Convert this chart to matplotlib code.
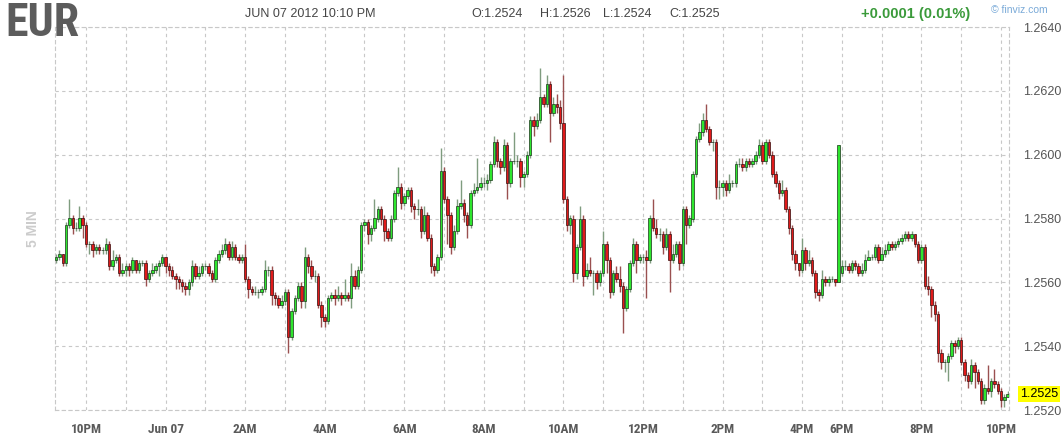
import matplotlib
matplotlib.use("Agg")
import matplotlib.pyplot as plt
from matplotlib import font_manager as fm
from matplotlib.transforms import blended_transform_factory

# ---------------- data (EUR/USD 5-min candles, Jun 06 21:15 -> Jun 07 22:10) ----------------
first_open = 1.2567
open_overrides = {237: 1.2563}   # gap after the 6PM spike candle

closes = [
1.2568,1.2569,1.2566,1.2578,1.2580,1.2577,1.2577,1.2580,1.2578,1.2572,
1.2572,1.2570,1.2571,1.2570,1.2570,1.2572,1.2565,1.2567,1.2568,1.2563,
1.2564,1.2565,1.2564,1.2567,1.2564,1.2566,1.2566,1.2561,1.2563,1.2564,
1.2565,1.2566,1.2568,1.2565,1.2564,1.2562,1.2561,1.2560,1.2559,1.2558,
1.2560,1.2565,1.2562,1.2563,1.2565,1.2565,1.2563,1.2561,1.2567,1.2569,
1.2570,1.2572,1.2568,1.2571,1.2568,1.2567,1.2568,1.2561,1.2558,1.2557,
1.2557,1.2557,1.2558,1.2564,1.2564,1.2556,1.2555,1.2553,1.2554,1.2557,
1.2543,1.2551,1.2555,1.2559,1.2554,1.2568,1.2565,1.2562,1.2562,1.2553,
1.2549,1.2548,1.2555,1.2556,1.2555,1.2556,1.2555,1.2556,1.2555,1.2562,
1.2559,1.2564,1.2578,1.2579,1.2575,1.2577,1.2580,1.2583,1.2580,1.2576,
1.2574,1.2580,1.2588,1.2590,1.2585,1.2587,1.2589,1.2584,1.2583,1.2583,
1.2576,1.2581,1.2574,1.2565,1.2564,1.2568,1.2595,1.2586,1.2581,1.2571,
1.2576,1.2584,1.2585,1.2581,1.2578,1.2588,1.2589,1.2590,1.2591,1.2591,
1.2592,1.2597,1.2604,1.2598,1.2596,1.2603,1.2591,1.2598,1.2598,1.2598,
1.2593,1.2594,1.2600,1.2611,1.2609,1.2611,1.2618,1.2616,1.2622,1.2613,
1.2616,1.2615,1.2610,1.2586,1.2578,1.2580,1.2563,1.2571,1.2580,1.2562,
1.2564,1.2563,1.2563,1.2560,1.2563,1.2572,1.2567,1.2557,1.2563,1.2561,
1.2559,1.2552,1.2558,1.2566,1.2572,1.2567,1.2568,1.2568,1.2567,1.2580,
1.2577,1.2575,1.2575,1.2571,1.2575,1.2567,1.2569,1.2572,1.2566,1.2583,
1.2578,1.2580,1.2594,1.2605,1.2607,1.2611,1.2608,1.2604,1.2604,1.2590,
1.2590,1.2591,1.2589,1.2591,1.2591,1.2597,1.2597,1.2596,1.2598,1.2597,
1.2598,1.2600,1.2603,1.2598,1.2604,1.2600,1.2594,1.2591,1.2588,1.2589,
1.2583,1.2577,1.2569,1.2566,1.2564,1.2570,1.2566,1.2567,1.2563,1.2557,
1.2556,1.2561,1.2560,1.2561,1.2561,1.2560,1.2603,1.2565,1.2565,1.2564,
1.2566,1.2565,1.2563,1.2564,1.2567,1.2568,1.2568,1.2571,1.2567,1.2569,
1.2570,1.2572,1.2571,1.2572,1.2573,1.2574,1.2575,1.2574,1.2575,1.2572,
1.2567,1.2571,1.2559,1.2558,1.2553,1.2550,1.2538,1.2535,1.2535,1.2537,
1.2541,1.2540,1.2542,1.2535,1.2531,1.2529,1.2534,1.2532,1.2529,1.2523,
1.2527,1.2526,1.2529,1.2528,1.2526,1.2523,1.2524,1.2525]

highs = [
1.2569,1.2570,1.2569,1.2579,1.2586,1.2581,1.2579,1.2584,1.2581,1.2579,
1.2573,1.2573,1.2572,1.2572,1.2571,1.2574,1.2573,1.2570,1.2569,1.2569,
1.2566,1.2566,1.2566,1.2568,1.2567,1.2567,1.2567,1.2567,1.2564,1.2566,
1.2566,1.2567,1.2569,1.2568,1.2566,1.2565,1.2563,1.2562,1.2561,1.2560,
1.2561,1.2567,1.2566,1.2565,1.2566,1.2566,1.2566,1.2564,1.2568,1.2570,
1.2572,1.2574,1.2573,1.2573,1.2572,1.2569,1.2569,1.2572,1.2562,1.2559,
1.2559,1.2558,1.2559,1.2567,1.2565,1.2565,1.2557,1.2556,1.2556,1.2558,
1.2558,1.2552,1.2556,1.2560,1.2560,1.2571,1.2569,1.2567,1.2564,1.2563,
1.2554,1.2550,1.2556,1.2557,1.2558,1.2559,1.2557,1.2561,1.2557,1.2566,
1.2564,1.2565,1.2579,1.2580,1.2580,1.2578,1.2586,1.2584,1.2584,1.2581,
1.2577,1.2581,1.2589,1.2596,1.2591,1.2588,1.2590,1.2590,1.2585,1.2586,
1.2584,1.2584,1.2582,1.2575,1.2566,1.2569,1.2602,1.2596,1.2587,1.2582,
1.2578,1.2586,1.2592,1.2586,1.2582,1.2589,1.2591,1.2599,1.2593,1.2593,
1.2594,1.2598,1.2606,1.2605,1.2599,1.2605,1.2604,1.2599,1.2607,1.2600,
1.2599,1.2595,1.2601,1.2612,1.2612,1.2613,1.2627,1.2619,1.2625,1.2623,
1.2618,1.2619,1.2617,1.2625,1.2587,1.2581,1.2581,1.2572,1.2584,1.2581,
1.2566,1.2568,1.2564,1.2564,1.2564,1.2576,1.2573,1.2568,1.2564,1.2565,
1.2565,1.2560,1.2559,1.2567,1.2574,1.2573,1.2569,1.2569,1.2570,1.2581,
1.2586,1.2580,1.2577,1.2576,1.2577,1.2576,1.2572,1.2573,1.2573,1.2584,
1.2584,1.2581,1.2595,1.2606,1.2610,1.2613,1.2616,1.2609,1.2605,1.2605,
1.2592,1.2592,1.2592,1.2594,1.2592,1.2598,1.2599,1.2599,1.2599,1.2599,
1.2599,1.2601,1.2605,1.2604,1.2605,1.2605,1.2601,1.2595,1.2592,1.2592,
1.2590,1.2584,1.2578,1.2570,1.2566,1.2574,1.2571,1.2570,1.2568,1.2564,
1.2558,1.2564,1.2562,1.2562,1.2562,1.2561,1.2603,1.2567,1.2567,1.2566,
1.2567,1.2567,1.2566,1.2566,1.2569,1.2570,1.2569,1.2572,1.2572,1.2571,
1.2572,1.2573,1.2573,1.2573,1.2574,1.2575,1.2576,1.2576,1.2576,1.2575,
1.2573,1.2572,1.2572,1.2562,1.2559,1.2554,1.2551,1.2539,1.2536,1.2538,
1.2542,1.2542,1.2543,1.2543,1.2536,1.2532,1.2536,1.2535,1.2533,1.2530,
1.2528,1.2534,1.2530,1.2533,1.2529,1.2527,1.2525,1.2526]

lows = [
1.2566,1.2567,1.2565,1.2565,1.2577,1.2575,1.2576,1.2576,1.2574,1.2571,
1.2569,1.2568,1.2569,1.2569,1.2569,1.2569,1.2564,1.2564,1.2566,1.2562,
1.2562,1.2562,1.2562,1.2563,1.2563,1.2563,1.2565,1.2559,1.2560,1.2562,
1.2563,1.2562,1.2565,1.2563,1.2562,1.2561,1.2558,1.2558,1.2557,1.2556,
1.2556,1.2559,1.2561,1.2561,1.2562,1.2564,1.2562,1.2560,1.2560,1.2566,
1.2568,1.2569,1.2567,1.2567,1.2567,1.2566,1.2566,1.2560,1.2555,1.2556,
1.2556,1.2555,1.2556,1.2557,1.2562,1.2553,1.2553,1.2552,1.2552,1.2553,
1.2538,1.2542,1.2550,1.2554,1.2552,1.2552,1.2563,1.2561,1.2560,1.2552,
1.2546,1.2546,1.2547,1.2554,1.2553,1.2554,1.2553,1.2554,1.2554,1.2552,
1.2558,1.2558,1.2563,1.2576,1.2572,1.2573,1.2576,1.2579,1.2578,1.2573,
1.2573,1.2573,1.2579,1.2587,1.2583,1.2584,1.2586,1.2582,1.2580,1.2581,
1.2574,1.2575,1.2573,1.2563,1.2562,1.2563,1.2567,1.2585,1.2572,1.2569,
1.2570,1.2575,1.2583,1.2579,1.2574,1.2577,1.2587,1.2588,1.2589,1.2590,
1.2589,1.2591,1.2596,1.2596,1.2594,1.2595,1.2586,1.2590,1.2597,1.2596,
1.2590,1.2590,1.2593,1.2599,1.2606,1.2608,1.2610,1.2615,1.2615,1.2604,
1.2612,1.2613,1.2608,1.2585,1.2576,1.2575,1.2560,1.2561,1.2570,1.2559,
1.2561,1.2562,1.2556,1.2558,1.2559,1.2562,1.2563,1.2555,1.2556,1.2560,
1.2557,1.2544,1.2551,1.2557,1.2565,1.2563,1.2566,1.2566,1.2555,1.2566,
1.2576,1.2574,1.2573,1.2569,1.2570,1.2557,1.2566,1.2568,1.2564,1.2565,
1.2572,1.2577,1.2579,1.2593,1.2604,1.2606,1.2607,1.2603,1.2601,1.2586,
1.2586,1.2587,1.2587,1.2588,1.2590,1.2590,1.2596,1.2595,1.2595,1.2596,
1.2596,1.2597,1.2599,1.2597,1.2597,1.2599,1.2593,1.2590,1.2586,1.2587,
1.2582,1.2575,1.2567,1.2564,1.2562,1.2563,1.2564,1.2565,1.2562,1.2555,
1.2554,1.2555,1.2559,1.2559,1.2560,1.2559,1.2560,1.2562,1.2564,1.2563,
1.2563,1.2564,1.2562,1.2562,1.2563,1.2567,1.2567,1.2567,1.2566,1.2567,
1.2568,1.2569,1.2570,1.2570,1.2571,1.2572,1.2573,1.2573,1.2573,1.2571,
1.2566,1.2566,1.2558,1.2556,1.2549,1.2548,1.2535,1.2533,1.2532,1.2529,
1.2536,1.2538,1.2539,1.2534,1.2529,1.2527,1.2528,1.2527,1.2528,1.2522,
1.2522,1.2525,1.2524,1.2527,1.2525,1.2521,1.2521,1.2524]

x_tick_pos = [9, 33, 57, 81, 105, 129, 153, 177, 201, 225, 237, 261, 285]
x_tick_labels = ["10PM", "Jun 07", "2AM", "4AM", "6AM", "8AM", "10AM",
                 "12PM", "2PM", "4PM", "6PM", "8PM", "10PM"]
hour_grid = [9, 21, 33, 45, 57, 69, 81, 93, 105, 117, 129, 141, 153, 165,
             177, 189, 201, 213, 225, 237, 249, 261, 273, 285]
y_ticks = [1.2520, 1.2540, 1.2560, 1.2580, 1.2600, 1.2620, 1.2640]
last_price = 1.2525
header_date = "JUN 07 2012 10:10 PM"
header_ohlc = ["O:1.2524", "H:1.2526", "L:1.2524", "C:1.2525"]
header_change = "+0.0001 (0.01%)"


def pick(names):
    for n in names:
        try:
            fm.findfont(fm.FontProperties(family=n), fallback_to_default=False)
            return n
        except Exception:
            pass
    return "DejaVu Sans"


NARROW = pick(["Liberation Sans Narrow", "Roboto Condensed", "Liberation Sans"])
SANS = pick(["Liberation Sans", "Arimo", "DejaVu Sans"])

W, H = 1064, 440
fig = plt.figure(figsize=(W / 100, H / 100), dpi=100)
fig.patch.set_facecolor("white")
L, R, T, B = 55, 1009, 27, 410
ax = fig.add_axes([L / W, (H - B) / H, (R - L) / W, (B - T) / H])
ax.set_facecolor("white")

n = len(closes)
xs = list(range(n))
opens = [first_open] + closes[:-1]
for k, v in open_overrides.items():
    opens[k] = v

GRID = "#c8c8c8"
DASH = (0, (3, 3))
for gx in hour_grid:
    ax.axvline(gx, color=GRID, lw=0.8, ls=DASH, zorder=0)
for gy in y_ticks:
    ax.axhline(gy, color=GRID, lw=0.8, ls=DASH, zorder=0)
for s in ax.spines.values():
    s.set_color(GRID)
    s.set_linestyle(DASH)
    s.set_linewidth(0.8)

up = [c >= o for o, c in zip(opens, closes)]
wick_cols = ["#7f9c7f" if u else "#9a5050" for u in up]
ax.vlines(xs, lows, highs, colors=wick_cols, lw=1.0, zorder=2)
bottoms = [min(o, c) for o, c in zip(opens, closes)]
heights = [abs(c - o) for o, c in zip(opens, closes)]
body_cols = ["#2ee62e" if u else "#e01a1a" for u in up]
edge_cols = ["#1c331c" if u else "#331010" for u in up]
ax.bar(xs, heights, bottom=bottoms, width=0.74, color=body_cols,
       edgecolor=edge_cols, linewidth=0.5, zorder=3)

ax.set_xlim(-0.35, 287.4)
ax.set_ylim(1.2520, 1.2640)

ax.set_xticks(x_tick_pos)
ax.set_xticklabels(x_tick_labels, fontfamily=NARROW, fontsize=9.5,
                   color="#5a5a5a", fontweight="bold")
ax.tick_params(axis="x", length=0, pad=9)
ax.yaxis.tick_right()
ax.set_yticks(y_ticks)
ax.set_yticklabels(["%.4f" % v for v in y_ticks], fontfamily=SANS,
                   fontsize=9, color="#555555")
ax.tick_params(axis="y", length=0, pad=10)

# current price tag
tr = blended_transform_factory(ax.transAxes, ax.transData)
ax.text(1.0 + 11 / (R - L), last_price, "%.4f" % last_price, transform=tr,
        fontfamily=SANS, fontsize=9, color="black", va="center", ha="left",
        bbox=dict(facecolor="#ffff00", edgecolor="none", pad=1.6), zorder=5,
        clip_on=False)


def ftxt(x, y, s, **kw):
    fig.text(x / W, 1 - y / H, s, **kw)


ftxt(5, 23, "EUR", fontfamily=NARROW, fontsize=33, fontweight="bold",
     color="#5c5c5c", va="center", ha="left", zorder=6)
ftxt(245, 14, header_date, fontfamily=SANS, fontsize=9, color="#444444",
     va="center", ha="left")
for xpos, s in zip([471, 540, 603, 669], header_ohlc):
    ftxt(xpos, 14, s, fontfamily=SANS, fontsize=9, color="#444444",
         va="center", ha="left")
ftxt(861, 14, header_change, fontfamily=SANS, fontsize=10.5, fontweight="bold",
     color="#3a9a3a", va="center", ha="left")
ftxt(991, 10, "\u00a9 finviz.com", fontfamily=SANS, fontsize=7.5,
     color="#7aaad8", va="center", ha="left")
ftxt(33, 229, "5 MIN", fontfamily=SANS, fontsize=10, fontweight="bold",
     color="#cccccc", va="center", ha="center", rotation=90)

fig.savefig("out.png", dpi=100, facecolor="white")
